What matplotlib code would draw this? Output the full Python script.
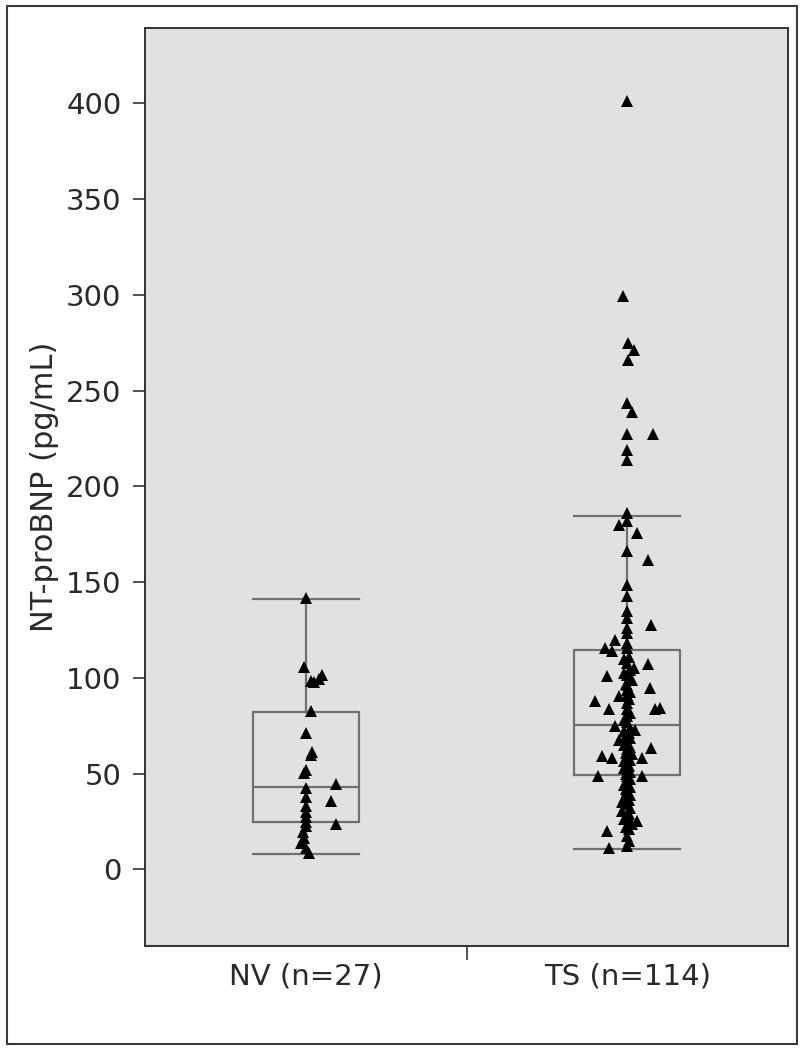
import matplotlib
matplotlib.use("Agg")
import matplotlib.pyplot as plt
from matplotlib.patches import Rectangle

# ---------------- data ----------------
categories = ["NV (n=27)", "TS (n=114)"]
y_label = "NT-proBNP (pg/mL)"
y_ticks = [0, 50, 100, 150, 200, 250, 300, 350, 400]

nv_values = [141.5, 105.5, 101.5, 99.5, 98.5, 98, 82.5, 71, 61.5, 59.5, 52, 50.5,
             44.5, 42.5, 38, 35.5, 33, 30, 27.5, 24.5, 23.5, 22.5, 19.5, 16.5, 14, 11, 8.5]
nv_jitter = [0, -0.005, 0.05, 0.04, 0.015, 0.025, 0.015, 0, 0.02, 0.015, 0, -0.005,
             0.095, 0, 0, 0.08, 0, 0, 0, 0, 0.095, 0, -0.01, -0.005, -0.015, 0, 0.01]

ts_values = [401.4, 299.5, 274.8, 271.3, 266, 243.5, 239, 227.5, 227.5, 219, 213.9,
             186, 181.7, 180, 175.6, 166, 161.7, 148.7, 142.6, 135, 131,
             127.8, 126, 123.5, 120, 118.4, 115.8, 115.7, 113.9,
             111, 110, 108, 107, 105, 104.3, 102.5, 101.7, 100.9, 99, 97, 96.5, 94.7, 93.9,
             92.5, 91.3, 90.4, 89, 87.8, 87, 84.5, 83.5, 83.5, 83.5, 81.5, 80, 78, 76.7,
             74.8, 74, 73, 72, 71, 70, 69.5, 68.5, 67.8, 66, 65, 64, 63.5, 62.6, 61, 60,
             59.1, 59.1, 58.3, 58.3, 57, 56.5, 55.7, 54, 53, 52.2, 51, 50,
             48.7, 48.7, 48.7, 47, 45.5, 44.3, 43, 42, 40.9, 39, 37.4, 36, 35, 33.9, 32,
             30.4, 29, 27.8, 26.5, 25.2, 24, 23.5, 22, 21, 20, 17.4, 15, 12.2, 11.3]
ts_jitter = [0, -0.012, 0.003, 0.02, 0.003, 0, 0.015, 0.081, 0, 0, 0,
             0, 0, -0.027, 0.03, 0, 0.066, 0, 0, 0, 0,
             0.075, 0, 0, -0.039, 0, 0, -0.068, -0.047,
             0.005, -0.01, 0, 0.064, 0.02, 0.01, -0.01, 0, -0.063, 0.015, -0.005, 0, 0.071, 0,
             0.01, 0, -0.027, 0.005, -0.1, 0, 0.102, -0.058, 0, 0.087, 0.01, 0, -0.01, 0,
             -0.037, 0.01, 0.025, -0.01, 0.005, -0.005, 0, 0.01, -0.027, 0, -0.01, 0.01, 0.075, 0, -0.005, 0.015,
             0, -0.078, -0.047, 0.045, 0.01, -0.01, 0, 0.005, -0.01, 0, 0.01, -0.005,
             0, -0.092, 0.045, 0.01, -0.005, -0.01, 0.01, -0.005, 0, 0.01, -0.01, 0.005, -0.015, 0, 0.01,
             -0.015, 0.005, 0, -0.01, 0.03, 0.01, 0.015, -0.005, 0.005, -0.063, 0, 0.005, 0, -0.058]

# box statistics (whisker low, Q1, median, Q3, whisker high)
box_whislo = [8.2, 10.8]
box_q1 = [24.8, 49.4]
box_med = [42.8, 75.3]
box_q3 = [82.3, 114.6]
box_whishi = [141.0, 184.7]

# ---------------- figure ----------------
plt.rcParams['font.family'] = ['DejaVu Sans']
W, H = 805, 1050
fig = plt.figure(figsize=(W / 100, H / 100), dpi=100)
fig.patch.set_facecolor('white')

# outer frame
fig.add_artist(Rectangle((7 / W, 1 - 1044 / H), 790 / W, 1038 / H,
                         transform=fig.transFigure, fill=False,
                         edgecolor='#3a3a3a', linewidth=1.5))

ax = fig.add_axes([145 / W, 1 - 946 / H, 643 / W, 918 / H])
ax.set_facecolor('#e1e1e1')
for sp in ax.spines.values():
    sp.set_color('#333333')
    sp.set_linewidth(1.4)

positions = [0, 1]
stats = []
for i in range(2):
    stats.append(dict(med=box_med[i], q1=box_q1[i], q3=box_q3[i],
                      whislo=box_whislo[i], whishi=box_whishi[i],
                      fliers=[], label=categories[i]))
line_c = '#707070'
ax.bxp(stats, positions=positions, widths=0.33, capwidths=0.33,
       showfliers=False, patch_artist=False,
       boxprops=dict(color=line_c, linewidth=1.6),
       whiskerprops=dict(color=line_c, linewidth=1.6),
       capprops=dict(color=line_c, linewidth=1.6),
       medianprops=dict(color=line_c, linewidth=1.6), zorder=2)

for pos, vals, jit in [(0, nv_values, nv_jitter), (1, ts_values, ts_jitter)]:
    xs = [pos + j for j in jit]
    ax.plot(xs, vals, linestyle='none', marker='^', markersize=8.5,
            color='black', markeredgewidth=0, zorder=3)

ax.set_xlim(-0.5, 1.5)
ax.set_ylim(-40, 439.3)
ax.set_yticks(y_ticks)
ax.set_yticklabels([str(t) for t in y_ticks])
ax.set_xticks(positions)
ax.set_xticklabels(categories)
ax.set_xticks([0.5], minor=True)
ax.tick_params(axis='x', which='major', length=0, pad=12, labelsize=21, labelcolor='#2a2a2a')
ax.tick_params(axis='x', which='minor', length=10, width=1.2, color='#333333')
ax.tick_params(axis='y', length=9, width=1.2, color='#333333', pad=8,
               labelsize=21, labelcolor='#2a2a2a')
ax.set_ylabel(y_label, fontsize=22, color='#2a2a2a', labelpad=5)

fig.savefig('out.png', dpi=100, facecolor='white')
